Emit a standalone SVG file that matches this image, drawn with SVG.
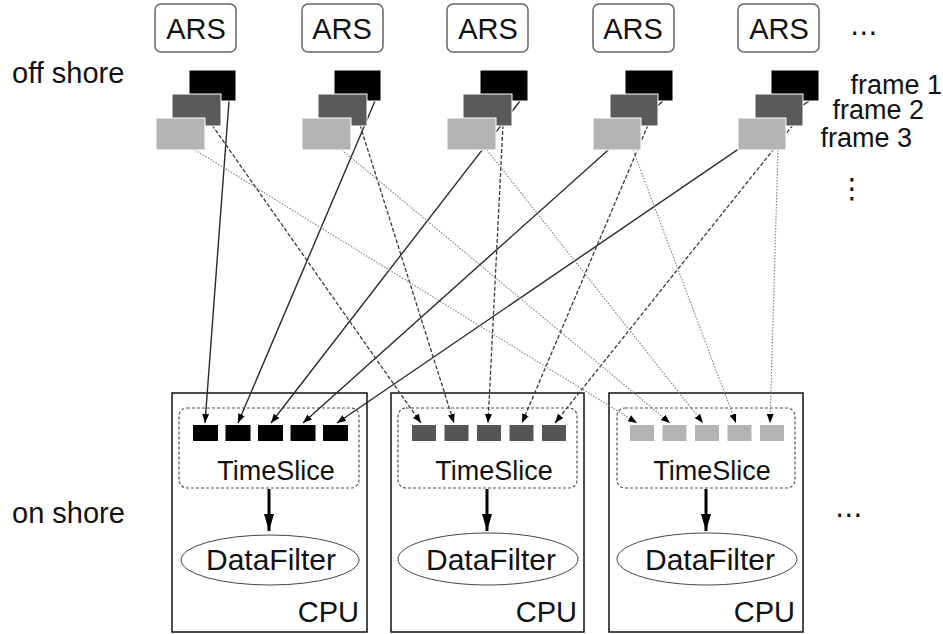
<svg xmlns="http://www.w3.org/2000/svg" width="943" height="634" viewBox="0 0 943 634">
<style>
text{font-family:"Liberation Sans",Arial,Helvetica,sans-serif;fill:#111}
.lbl{font-size:29px}
.fl{font-size:27px}
.ars .box{fill:#fff;stroke:#666;stroke-width:1.5}
.ars .f1{fill:#000;stroke:#fff;stroke-width:1}
.ars .f2{fill:#5a5a5a;stroke:#fff;stroke-width:1}
.ars .f3{fill:#b3b3b3;stroke:#fff;stroke-width:1}
.cpu{fill:none;stroke:#111;stroke-width:1.5}
.ts{fill:none;stroke:#555;stroke-width:1.2;stroke-dasharray:3 2}
.df{fill:#fff;stroke:#444;stroke-width:1}
.s1{fill:#000}.s2{fill:#555}.s3{fill:#b3b3b3}
.e1{stroke:#2a2a2a;stroke-width:1.4;fill:none}
.e2{stroke:#3a3a3a;stroke-width:1.3;fill:none;stroke-dasharray:4 2}
.e3{stroke:#888;stroke-width:1.2;fill:none;stroke-dasharray:1.5 1.5}
.thick{stroke:#000;stroke-width:3;fill:none}
.dots{font-family:"DejaVu Sans",sans-serif;font-size:28px}
</style>
<defs>
<marker id="ah" markerUnits="userSpaceOnUse" markerWidth="10" markerHeight="8" refX="9" refY="3.5" orient="auto">
<path d="M0,0 L9,3.5 L0,7 z" fill="#000"/>
</marker>
<marker id="ahb" markerUnits="userSpaceOnUse" markerWidth="18" markerHeight="12" refX="17" refY="5" orient="auto">
<path d="M0,0 L17,5 L0,10 z" fill="#000"/>
</marker>
</defs>

<text class="lbl" x="12" y="83">off shore</text>
<text class="lbl" x="12" y="523">on shore</text>

<g id="cpu1">
<rect class="cpu" x="172" y="393" width="195" height="239"/>
<rect class="ts" x="179" y="408" width="180" height="80" rx="8"/>
<rect class="s1" x="193" y="425" width="25" height="16"/>
<rect class="s1" x="225.5" y="425" width="25" height="16"/>
<rect class="s1" x="258" y="425" width="25" height="16"/>
<rect class="s1" x="290.5" y="425" width="25" height="16"/>
<rect class="s1" x="323" y="425" width="25" height="16"/>
<text x="276" y="480" font-size="27" text-anchor="middle">TimeSlice</text>
<line class="thick" x1="269" y1="489" x2="269" y2="531" marker-end="url(#ahb)"/>
<ellipse class="df" cx="270" cy="560" rx="89" ry="25"/>
<text x="271" y="570" font-size="30" text-anchor="middle">DataFilter</text>
<text class="lbl" x="359" y="622" text-anchor="end">CPU</text>
</g>
<g id="cpu2">
<rect class="cpu" x="391" y="393" width="193" height="239"/>
<rect class="ts" x="398" y="408" width="179" height="80" rx="8"/>
<rect class="s2" x="412" y="425" width="24" height="16"/>
<rect class="s2" x="444.5" y="425" width="24" height="16"/>
<rect class="s2" x="477" y="425" width="24" height="16"/>
<rect class="s2" x="509.5" y="425" width="24" height="16"/>
<rect class="s2" x="542" y="425" width="24" height="16"/>
<text x="494" y="480" font-size="27" text-anchor="middle">TimeSlice</text>
<line class="thick" x1="487" y1="489" x2="487" y2="531" marker-end="url(#ahb)"/>
<ellipse class="df" cx="488" cy="559" rx="90" ry="26"/>
<text x="491" y="570" font-size="30" text-anchor="middle">DataFilter</text>
<text class="lbl" x="577" y="622" text-anchor="end">CPU</text>
</g>
<g id="cpu3">
<rect class="cpu" x="609" y="393" width="194" height="239"/>
<rect class="ts" x="617" y="408" width="178" height="80" rx="8"/>
<rect class="s3" x="630" y="425" width="24" height="16"/>
<rect class="s3" x="662.5" y="425" width="24" height="16"/>
<rect class="s3" x="695" y="425" width="24" height="16"/>
<rect class="s3" x="727.5" y="425" width="24" height="16"/>
<rect class="s3" x="760" y="425" width="24" height="16"/>
<text x="712" y="480" font-size="27" text-anchor="middle">TimeSlice</text>
<line class="thick" x1="706" y1="489" x2="706" y2="531" marker-end="url(#ahb)"/>
<ellipse class="df" cx="707" cy="559" rx="90" ry="26"/>
<text x="710" y="570" font-size="30" text-anchor="middle">DataFilter</text>
<text class="lbl" x="795" y="622" text-anchor="end">CPU</text>
</g>

<g id="connectors">
<line class="e1" x1="229" y1="101" x2="205" y2="423" marker-end="url(#ah)"/>
<line class="e1" x1="375" y1="101" x2="238" y2="423" marker-end="url(#ah)"/>
<line class="e1" x1="520" y1="101" x2="271" y2="423" marker-end="url(#ah)"/>
<line class="e1" x1="663" y1="101" x2="303" y2="423" marker-end="url(#ah)"/>
<line class="e1" x1="809" y1="101" x2="337" y2="423" marker-end="url(#ah)"/>
<line class="e2" x1="212" y1="125" x2="421" y2="423" marker-end="url(#ah)"/>
<line class="e2" x1="360" y1="125" x2="454" y2="423" marker-end="url(#ah)"/>
<line class="e2" x1="503" y1="125" x2="488" y2="423" marker-end="url(#ah)"/>
<line class="e2" x1="648" y1="125" x2="522" y2="423" marker-end="url(#ah)"/>
<line class="e2" x1="793" y1="125" x2="555" y2="423" marker-end="url(#ah)"/>
<line class="e3" x1="195" y1="150" x2="637" y2="423" marker-end="url(#ah)"/>
<line class="e3" x1="342" y1="150" x2="670" y2="423" marker-end="url(#ah)"/>
<line class="e3" x1="487" y1="150" x2="703" y2="423" marker-end="url(#ah)"/>
<line class="e3" x1="633" y1="150" x2="736" y2="423" marker-end="url(#ah)"/>
<line class="e3" x1="778" y1="150" x2="770" y2="423" marker-end="url(#ah)"/>
</g>

<g id="ars1" class="ars">
<rect class="box" x="155" y="4" width="81" height="48" rx="6"/>
<text class="lbl" x="196" y="39" text-anchor="middle">ARS</text>
<rect class="f1" x="189" y="70" width="47" height="31"/>
<rect class="f2" x="172" y="94" width="49" height="32"/>
<rect class="f3" x="156" y="118" width="49" height="32"/>
</g>
<g id="ars2" class="ars">
<rect class="box" x="302" y="4" width="81" height="48" rx="6"/>
<text class="lbl" x="342" y="39" text-anchor="middle">ARS</text>
<rect class="f1" x="334" y="70" width="47" height="31"/>
<rect class="f2" x="318" y="94" width="49" height="32"/>
<rect class="f3" x="302" y="118" width="49" height="32"/>
</g>
<g id="ars3" class="ars">
<rect class="box" x="447" y="4" width="81" height="48" rx="6"/>
<text class="lbl" x="488" y="39" text-anchor="middle">ARS</text>
<rect class="f1" x="480" y="70" width="48" height="31"/>
<rect class="f2" x="463" y="94" width="49" height="32"/>
<rect class="f3" x="447" y="118" width="49" height="32"/>
</g>
<g id="ars4" class="ars">
<rect class="box" x="593" y="4" width="81" height="48" rx="6"/>
<text class="lbl" x="633" y="39" text-anchor="middle">ARS</text>
<rect class="f1" x="625" y="70" width="48" height="31"/>
<rect class="f2" x="610" y="94" width="48" height="32"/>
<rect class="f3" x="593" y="118" width="48" height="32"/>
</g>
<g id="ars5" class="ars">
<rect class="box" x="738" y="4" width="81" height="48" rx="6"/>
<text class="lbl" x="779" y="39" text-anchor="middle">ARS</text>
<rect class="f1" x="771" y="70" width="48" height="31"/>
<rect class="f2" x="755" y="94" width="48" height="32"/>
<rect class="f3" x="738" y="118" width="48" height="32"/>
</g>

<g id="labels">
<text class="fl" x="942" y="94" text-anchor="end">frame 1</text>
<text class="fl" x="924" y="119" text-anchor="end">frame 2</text>
<text class="fl" x="912" y="147" text-anchor="end">frame 3</text>
<text class="dots" x="850" y="42">⋯</text>
<text class="dots" x="852" y="198" text-anchor="middle">⋮</text>
<text class="dots" x="835" y="524">⋯</text>
</g>
</svg>
